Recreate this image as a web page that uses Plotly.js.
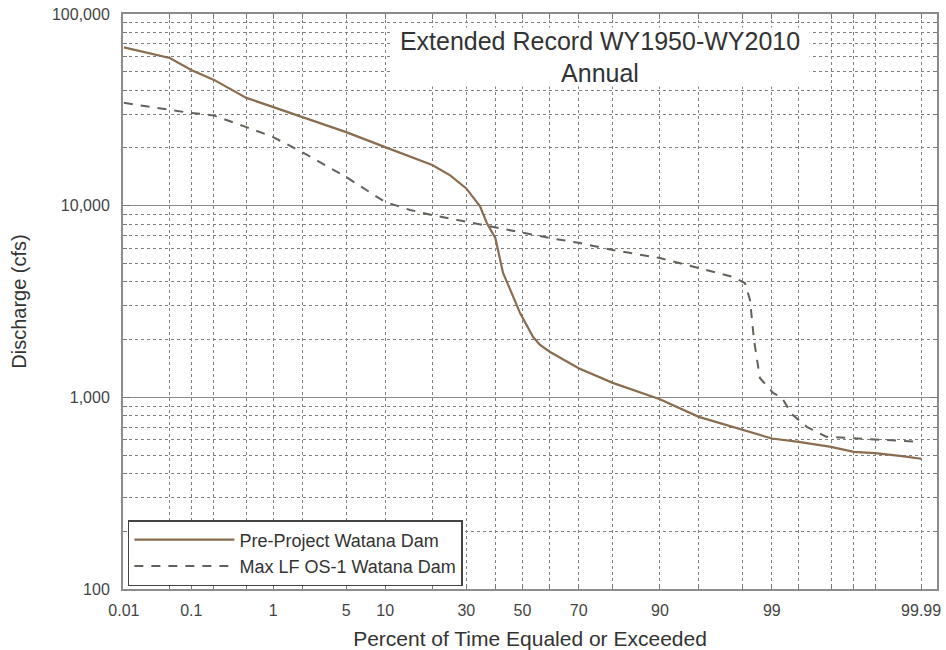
<!DOCTYPE html>
<html>
<head>
<meta charset="utf-8">
<script src="https://cdn.plot.ly/plotly-3.0.1.min.js"></script>
<style>html,body{margin:0;padding:0;background:#fff;}#chart{width:946px;height:650px;}</style>
</head>
<body>
<div id="chart"></div>
<script>
// ---- data (percent of time equaled or exceeded, discharge in cfs) ----
const prePct = [0.01, 0.05, 0.1, 0.2, 0.5, 1, 2, 5, 10, 20, 25, 30, 34.6, 37, 40, 42.8, 45, 49.1, 53.9, 56.5, 60, 70, 80, 90, 95, 98, 99, 99.5, 99.8, 99.9, 99.95, 99.98, 99.99];
const preQ   = [67000, 59000, 51000, 45300, 36500, 32700, 29000, 24200, 20200, 16300, 14400, 12300, 9930, 8100, 6780, 4460, 3770, 2750, 2070, 1875, 1730, 1420, 1190, 977, 791, 676, 610, 585, 551, 519, 512, 494, 478];

const maxPct = [0.01, 0.05, 0.1, 0.15, 0.2, 0.5, 1, 2, 5, 10, 14.7, 20, 30, 40, 50, 60, 70, 80, 90, 95, 97.5, 98.1, 98.31, 98.46, 98.66, 99.03, 99.22, 99.4, 99.6, 99.77, 99.9, 99.99];
const maxQ   = [34400, 31500, 30400, 30000, 29500, 25700, 22800, 19000, 14100, 10450, 9500, 8930, 8230, 7660, 7210, 6780, 6400, 5870, 5330, 4730, 4250, 3950, 3220, 1995, 1262, 1055, 1000, 818, 702, 623, 611, 585];

const seriesNames = ['Pre-Project Watana Dam', 'Max LF OS-1 Watana Dam'];

const xGridPct = [0.01, 0.05, 0.1, 0.2, 0.5, 1, 2, 5, 10, 20, 30, 40, 50, 60, 70, 80, 90, 95, 98, 99, 99.5, 99.8, 99.9, 99.95, 99.99];
const xLabelPct = ['0.01', '0.1', '1', '5', '10', '30', '50', '70', '90', '99', '99.99'];

const yMajorVals = [100, 1000, 10000, 100000];
const yMajorText = ['100', '1,000', '10,000', '100,000'];
const yMinorVals = [200,300,400,500,600,700,800,900,2000,3000,4000,5000,6000,7000,8000,9000,20000,30000,40000,50000,60000,70000,80000,90000];

const titleText = 'Extended Record WY1950-WY2010<br>Annual';

// ---- normal probability scale (inverse normal CDF, Acklam) ----
function normInv(p) {
  const a = [-3.969683028665376e+01, 2.209460984245205e+02, -2.759285104469687e+02, 1.383577518672690e+02, -3.066479806614716e+01, 2.506628277459239e+00];
  const b = [-5.447609879822406e+01, 1.615858368580409e+02, -1.556989798598866e+02, 6.680131188771972e+01, -1.328068155288572e+01];
  const c = [-7.784894002430293e-03, -3.223964580411365e-01, -2.400758277161838e+00, -2.549732539343734e+00, 4.374664141464968e+00, 2.938163982698783e+00];
  const d = [7.784695709041462e-03, 3.224671290700398e-01, 2.445134137142996e+00, 3.754408661907416e+00];
  const pl = 0.02425, ph = 1 - pl;
  let q, r;
  if (p < pl) {
    q = Math.sqrt(-2 * Math.log(p));
    return (((((c[0]*q+c[1])*q+c[2])*q+c[3])*q+c[4])*q+c[5]) / ((((d[0]*q+d[1])*q+d[2])*q+d[3])*q+1);
  } else if (p <= ph) {
    q = p - 0.5; r = q*q;
    return (((((a[0]*r+a[1])*r+a[2])*r+a[3])*r+a[4])*r+a[5])*q / (((((b[0]*r+b[1])*r+b[2])*r+b[3])*r+b[4])*r+1);
  } else {
    q = Math.sqrt(-2 * Math.log(1 - p));
    return -(((((c[0]*q+c[1])*q+c[2])*q+c[3])*q+c[4])*q+c[5]) / ((((d[0]*q+d[1])*q+d[2])*q+d[3])*q+1);
  }
}
const toZ = pct => normInv(pct / 100);

const xTickVals = xGridPct.map(toZ);
const xTickText = xGridPct.map(p => xLabelPct.indexOf(String(p)) >= 0 ? String(p) : '');

const font = 'Liberation Sans, Arial, sans-serif';

const traces = [
  {
    x: prePct.map(toZ), y: preQ, name: seriesNames[0], type: 'scatter', mode: 'lines',
    line: {color: '#8a6d50', width: 2.2}
  },
  {
    x: maxPct.map(toZ), y: maxQ, name: seriesNames[1], type: 'scatter', mode: 'lines',
    line: {color: '#65615a', width: 2, dash: '9px,8px'}
  }
];

const layout = {
  width: 946, height: 650,
  margin: {l: 123, r: 9, t: 14, b: 61},
  paper_bgcolor: '#ffffff', plot_bgcolor: '#ffffff',
  font: {family: font, color: '#333'},
  showlegend: true,
  legend: {
    x: 0.006, y: 0.12, xanchor: 'left', yanchor: 'top',
    bgcolor: '#ffffff', bordercolor: '#444', borderwidth: 1.5,
    font: {family: font, size: 18, color: '#333'},
    itemwidth: 100, tracegroupgap: 0
  },
  xaxis: {
    type: 'linear', range: [-3.727, 3.867],
    tickmode: 'array', tickvals: xTickVals, ticktext: xTickText,
    showgrid: true, gridcolor: '#808080', gridwidth: 1, griddash: '3px,3px',
    zeroline: false,
    showline: true, linecolor: '#8c8c8c', linewidth: 2, mirror: 'allticks',
    ticks: 'inside', ticklen: 5, tickcolor: '#777',
    ticklabelstandoff: 6,
    automargin: false,
    tickfont: {family: font, size: 16, color: '#444'},
    title: {text: 'Percent of Time Equaled or Exceeded', font: {family: font, size: 21, color: '#333'}}
  },
  yaxis: {
    type: 'log', range: [2, 5],
    tickmode: 'array', tickvals: yMajorVals, ticktext: yMajorText,
    showgrid: true, gridcolor: '#8c8c8c', gridwidth: 1.6,
    zeroline: false,
    showline: true, linecolor: '#8c8c8c', linewidth: 2, mirror: 'allticks',
    ticks: 'inside', ticklen: 7, tickcolor: '#777',
    ticklabelstandoff: 8,
    tickfont: {family: font, size: 16, color: '#444'},
    minor: {tickmode: 'array', tickvals: yMinorVals, showgrid: true, gridcolor: '#808080', gridwidth: 1, griddash: '3px,3px', ticks: 'inside', ticklen: 4, tickcolor: '#777'},
    automargin: 'left',
    title: {text: 'Discharge (cfs)', font: {family: font, size: 20, color: '#333'}, standoff: 20}
  },
  annotations: [
    {
      xref: 'paper', yref: 'paper', x: 0.586, y: 0.926, xanchor: 'center', yanchor: 'middle',
      text: titleText, showarrow: false, align: 'center',
      font: {family: font, size: 25, color: '#333'},
      bgcolor: '#ffffff', width: 416, height: 56, borderpad: 1
    }
  ]
};

Plotly.newPlot('chart', traces, layout, {displayModeBar: false, staticPlot: true});
</script>
</body>
</html>
